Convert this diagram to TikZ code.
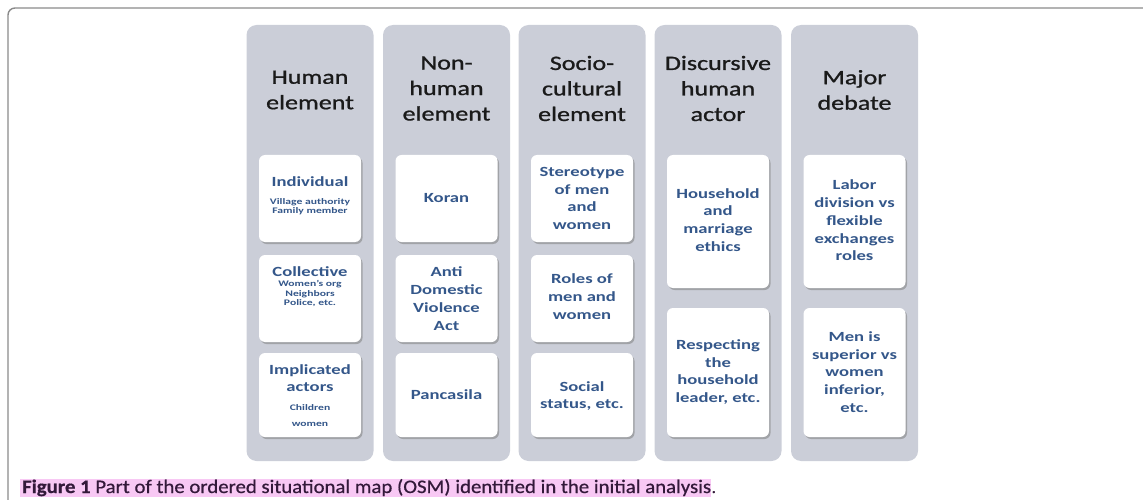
\documentclass[tikz,border=0pt]{standalone}
\usepackage{fontspec}
\setmainfont{Carlito}
\newfontfamily\headfont[FakeBold=0.9]{Carlito}
\newfontfamily\capfont[FakeBold=0.6]{Carlito}
\usetikzlibrary{shadows}
\definecolor{colfill}{HTML}{CBCED8}
\definecolor{boxtext}{HTML}{34578A}
\definecolor{headtext}{HTML}{1A1A1A}
\definecolor{hilite}{HTML}{F8C8F4}
\definecolor{captext}{HTML}{33193A}
\definecolor{framecol}{HTML}{8A8A8A}
\begin{document}
\begin{tikzpicture}[x=1pt,y=-1pt,
  column/.style={fill=colfill, draw=none, rounded corners=10pt, minimum width=127pt, minimum height=436pt, inner sep=0pt},
  card/.style={fill=white, draw=none, rounded corners=6pt, minimum width=102pt, inner sep=0pt,
    drop shadow={shadow xshift=1.5pt, shadow yshift=-2pt, fill=black!50, opacity=0.55}},
  headtxt/.style={text=headtext, font=\headfont\fontsize{20.5}{25.5}\selectfont, align=center, xscale=1.27, inner sep=0pt},
  boxtxt/.style={text=boxtext, font=\fontsize{14}{17.8}\selectfont\bfseries, align=center, xscale=1.33, inner sep=0pt},
  smalltxt/.style={text=boxtext, font=\fontsize{8.5}{9.5}\selectfont\bfseries, align=center, xscale=1.37, inner sep=0pt},
  captxt/.style={text=captext, inner sep=0pt, anchor=base west}
]
\useasboundingbox (0,0) rectangle (1143,500);
% outer frame
\draw[framecol, line width=1.4pt, rounded corners=7pt] (8,500) -- (8,8) -- (1143,8);

% columns
\node[column] (col1) at (310,243) {};
\node[column] (col2) at (446.5,243) {};
\node[column] (col3) at (582,243) {};
\node[column] (col4) at (718,243) {};
\node[column] (col5) at (854.5,243) {};

% headings
\node[headtxt] (h1) at (310,90) {Human\\element};
\node[headtxt] (h2) at (446.5,88.5) {Non-\\human\\element};
\node[headtxt] (h3) at (582,88.5) {Socio-\\cultural\\element};
\node[headtxt] (h4) at (718,88.5) {Discursive\\human\\actor};
\node[headtxt] (h5) at (854.5,90) {Major\\debate};

% cards column 1
\node[card, minimum height=87pt] (c11) at (310,198.5) {};
\node[card, minimum height=87pt] (c12) at (310,298.5) {};
\node[card, minimum height=84pt] (c13) at (310,395) {};
% cards column 2
\node[card, minimum height=87pt] (c21) at (446.5,198.5) {};
\node[card, minimum height=87pt] (c22) at (446.5,298.5) {};
\node[card, minimum height=84pt] (c23) at (446.5,395) {};
% cards column 3
\node[card, minimum height=87pt] (c31) at (582,198.5) {};
\node[card, minimum height=87pt] (c32) at (582,298.5) {};
\node[card, minimum height=84pt] (c33) at (582,395) {};
% cards column 4
\node[card, minimum height=133pt] (c41) at (718,221.5) {};
\node[card, minimum height=129pt] (c42) at (718,372.5) {};
% cards column 5
\node[card, minimum height=133pt] (c51) at (854.5,221.5) {};
\node[card, minimum height=129pt] (c52) at (854.5,372.5) {};

% texts column 1
\node[boxtxt] (t11) at (310,182) {Individual};
\node[smalltxt] (s11) at (310,206.5) {Village authority\\Family member};
\node[boxtxt] (t12) at (310,272) {Collective};
\node[smalltxt] (s12) at (310,293.5) {Women's org\\Neighbors\\Police, etc.};
\node[boxtxt, font=\fontsize{14}{17}\selectfont\bfseries] (t13) at (310,378.5) {Implicated\\actors};
\node[smalltxt, font=\fontsize{8.5}{15.5}\selectfont\bfseries] (s13) at (310,415.5) {Children\\women};

% texts column 2
\node[boxtxt] (t21) at (446.5,198.5) {Koran};
\node[boxtxt] (t22) at (446.5,298.5) {Anti\\Domestic\\Violence\\Act};
\node[boxtxt] (t23) at (446.5,395) {Pancasila};

% texts column 3
\node[boxtxt] (t31) at (582,198.5) {Stereotype\\of men\\and\\women};
\node[boxtxt] (t32) at (582,296.5) {Roles of\\men and\\women};
\node[boxtxt] (t33) at (582,396) {Social\\status, etc.};

% texts column 4
\node[boxtxt] (t41) at (718,220) {Household\\and\\marriage\\ethics};
\node[boxtxt] (t42) at (718,372) {Respecting\\the\\household\\leader, etc.};

% texts column 5
\node[boxtxt] (t51) at (854.5,220.5) {Labor\\division vs\\flexible\\exchanges\\roles};
\node[boxtxt] (t52) at (854.5,372) {Men is\\superior vs\\women\\inferior,\\etc.};

% caption
\fill[hilite] (20,479) rectangle (711,497);
\node[captxt] (cap) at (22,493) {\resizebox{689pt}{14pt}{\capfont\textbf{Figure 1} Part of the ordered situational map (OSM) identified in the initial analysis}};
\node[captxt, font=\capfont\fontsize{17}{18}\selectfont] (dot) at (cap.base east) {.};
\end{tikzpicture}
\end{document}
